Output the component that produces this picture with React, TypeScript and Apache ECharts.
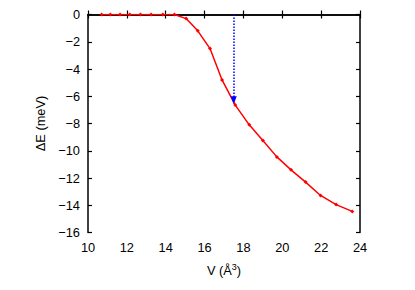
import React, { useEffect, useRef } from "react";
import * as echarts from "echarts";

const volumes = [10.7, 11.15, 11.65, 12.15, 12.7, 13.25, 13.85, 14.45, 15.05, 15.65, 16.28, 16.9, 17.58, 18.3, 19.0, 19.72, 20.45, 21.2, 21.97, 22.77, 23.6];
const energies = [0, 0, 0, 0, 0, 0, 0, 0, -0.3, -1.2, -2.5, -4.8, -6.65, -8.1, -9.25, -10.45, -11.4, -12.3, -13.28, -13.95, -14.45];
const arrowX = 17.5;
const arrowFrom = 0;
const arrowTo = -6.3;
const xTicks = [10, 24, 2];
const yTicks = [-16, 0, 2];

const FONT = "Liberation Sans";
const FS = 12.8;

export default function App() {
  const ref = useRef<HTMLDivElement>(null);
  useEffect(() => {
    const chart = echarts.init(ref.current!, null, { renderer: "svg" });
    const axisCommon = {
      axisLine: { lineStyle: { color: "#000", width: 1.5 } },
      axisTick: { inside: true, length: 4, lineStyle: { color: "#000", width: 1.2 } },
      splitLine: { show: false },
    };
    chart.setOption({
      animation: false,
      backgroundColor: "#fff",
      grid: { left: 88, right: 55, top: 14.5, bottom: 57.5 },
      xAxis: [
        {
          type: "value", min: xTicks[0], max: xTicks[1], interval: xTicks[2],
          ...axisCommon,
          axisLabel: { color: "#000", fontFamily: FONT, fontSize: FS, margin: 8 },
          name: "V (Å{sup|3})",
          nameLocation: "middle",
          nameGap: 30,
          nameTextStyle: {
            color: "#000", fontFamily: FONT, fontSize: FS,
            rich: { sup: { fontSize: 9, verticalAlign: "top", padding: [0, 0, 7, 0], color: "#000", fontFamily: FONT } },
          },
        },
        {
          type: "value", position: "top", min: xTicks[0], max: xTicks[1], interval: xTicks[2],
          ...axisCommon, axisLabel: { show: false },
        },
      ],
      yAxis: [
        {
          type: "value", min: yTicks[0], max: yTicks[1], interval: yTicks[2],
          ...axisCommon,
          axisLabel: {
            color: "#000", fontFamily: FONT, fontSize: FS, margin: 8,
            formatter: (v: number) => (v < 0 ? "\u2212" + Math.abs(v) : String(v)),
          },
          name: "ΔE (meV)",
          nameLocation: "middle",
          nameGap: 39,
          nameTextStyle: { color: "#000", fontFamily: FONT, fontSize: FS },
        },
        {
          type: "value", position: "right", min: yTicks[0], max: yTicks[1], interval: yTicks[2],
          ...axisCommon, axisLabel: { show: false },
        },
      ],
      series: [
        {
          type: "line",
          data: volumes.map((v, i) => [v, energies[i]]),
          symbol: "diamond",
          symbolSize: 4,
          itemStyle: { color: "#ff0000" },
          lineStyle: { color: "#ff0000", width: 1.5 },
          z: 3,
          markLine: {
            silent: true,
            symbol: ["none", "triangle"],
            symbolSize: [6, 8],
            label: { show: false },
            lineStyle: { color: "#0000ff", type: [1.5, 1.5], width: 1.5 },
            data: [[{ coord: [arrowX, arrowFrom] }, { coord: [arrowX, arrowTo] }]],
          },
        },
      ],
    });
    return () => chart.dispose();
  }, []);
  return <div ref={ref} style={{ position: "absolute", left: 0, top: 0, width: 415, height: 290 }} />;
}
